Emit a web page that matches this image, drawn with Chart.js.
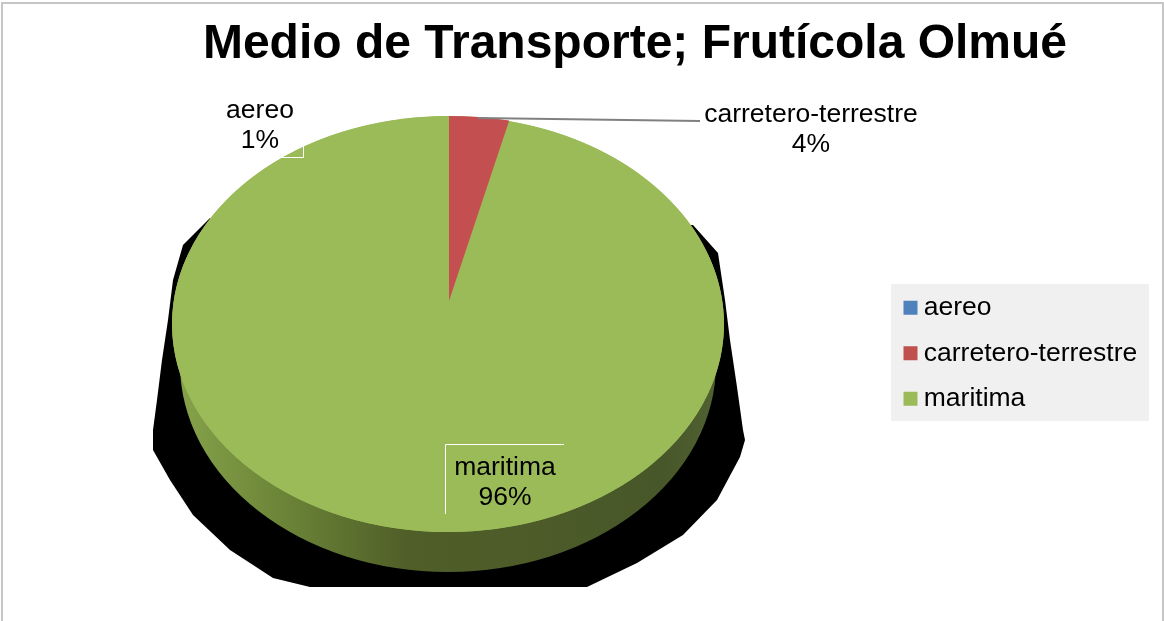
<!DOCTYPE html>
<html>
<head>
<meta charset="utf-8">
<style>html,body{margin:0;padding:0;background:#fff}canvas{display:block}</style>
<script src="https://cdn.jsdelivr.net/npm/chart.js@4"></script>
</head>
<body>
<canvas id="c" width="1164" height="621"></canvas>
<script>
const categories = ['aereo', 'carretero-terrestre', 'maritima'];
const values = [0.6, 3.5, 95.9];
const sliceColors = ['#9bbb59', '#c44f50', '#9bbb59'];
const legendColors = ['#4f81bd', '#c0504d', '#9bbb59'];
const chartTitle = 'Medio de Transporte; Frutícola Olmué';
const labelFont = '26.5px "Liberation Sans", Arial, sans-serif';

const face = { cx: 448, cy: 324, rx: 276, ry: 208 };
const rim = { cy: 364, rx: 268, ry: 208 };
const wedge = { cx: 449, cy: 301, ry: 185 };
const shadowPts = [[210,218],[183,245],[173,280],[168,320],[162,360],[157,400],[153,430],[153,450],[170,480],[193,515],[230,550],[273,578],[310,587],
  [587,587],[637,563],[683,535],[717,500],[740,457],[745,440],[743,430],[737,387],[730,340],[725,300],[718,253],[693,225]];
const labelSpots = [{x:260,y:111},{x:811,y:115},{x:505,y:468}];

const pie3d = {
  id: 'pie3d',
  afterLayout(chart) {
    const t = chart.titleBlock;
    t.left = 135; t.right = 1135; t.top = 3;
    const l = chart.legend;
    l.left = 911 - 19.5; l.top = 275.5;
  },
  beforeDraw(chart) {
    const c = chart.ctx;
    c.save();
    c.strokeStyle = '#c6c6c6'; c.lineWidth = 2;
    c.strokeRect(2, 3, 1161, 700);
    c.fillStyle = '#f0f0f0';
    c.fillRect(891, 284, 258, 137);
    c.restore();
  },
  beforeDatasetDraw(chart, args) {
    const c = chart.ctx, f = face;
    c.save();
    c.fillStyle = '#000';
    c.beginPath();
    shadowPts.forEach((p, i) => i ? c.lineTo(p[0], p[1]) : c.moveTo(p[0], p[1]));
    c.closePath(); c.fill();
    const g = c.createLinearGradient(f.cx - rim.rx, 0, f.cx + rim.rx, 0);
    g.addColorStop(0, '#86a24a');
    g.addColorStop(0.2, '#6a8337');
    g.addColorStop(0.42, '#505f28');
    g.addColorStop(0.9, '#485729');
    g.addColorStop(1, '#506132');
    c.fillStyle = g;
    c.beginPath();
    c.ellipse(f.cx, rim.cy, rim.rx, rim.ry, 0, 0, Math.PI * 2);
    c.fill();
    c.fillStyle = sliceColors[2];
    c.beginPath();
    c.ellipse(f.cx, f.cy, f.rx, f.ry, 0, 0, Math.PI * 2);
    c.fill();
    c.restore();
    const meta = args.meta;
    [2, 0, 1].forEach(i => {
      const el = meta.data[i];
      const isWedge = i === 1;
      const R = el.outerRadius;
      c.save();
      c.translate(isWedge ? wedge.cx : f.cx, isWedge ? wedge.cy : f.cy);
      c.scale(f.rx / R, (isWedge ? wedge.ry : f.ry) / R);
      c.translate(-el.x, -el.y);
      el.draw(c);
      c.restore();
    });
    return false;
  },
  afterDatasetsDraw(chart) {
    const c = chart.ctx;
    c.save();
    c.strokeStyle = '#808080'; c.lineWidth = 2;
    c.beginPath(); c.moveTo(478, 118); c.lineTo(700, 121); c.stroke();
    c.strokeStyle = '#ffffff'; c.lineWidth = 1;
    c.beginPath();
    c.moveTo(280, 157.5); c.lineTo(303.5, 157.5); c.lineTo(303.5, 141);
    c.moveTo(445.5, 514); c.lineTo(445.5, 444.5); c.lineTo(564, 444.5);
    c.stroke();
    c.fillStyle = '#000';
    c.font = labelFont;
    c.textAlign = 'center';
    c.textBaseline = 'middle';
    const total = values.reduce((a, b) => a + b, 0);
    categories.forEach((name, i) => {
      const s = labelSpots[i];
      c.fillText(name, s.x, s.y);
      c.fillText(Math.round(values[i] / total * 100) + '%', s.x, s.y + 30);
    });
    c.restore();
  }
};

new Chart(document.getElementById('c'), {
  type: 'pie',
  data: {
    labels: categories,
    datasets: [{ data: values, backgroundColor: sliceColors, borderWidth: 0 }]
  },
  options: {
    responsive: false,
    animation: false,
    rotation: -values[0] * 3.6,
    plugins: {
      tooltip: { enabled: false },
      title: {
        display: true,
        text: chartTitle,
        color: '#000',
        font: { family: '"Liberation Sans", Arial, sans-serif', size: 48, weight: 'bold' },
        padding: { top: 13, bottom: 0 }
      },
      legend: {
        display: true,
        position: 'right',
        align: 'start',
        labels: {
          color: '#000',
          font: { family: '"Liberation Sans", Arial, sans-serif', size: 26.5 },
          usePointStyle: true,
          pointStyle: 'rect',
          boxWidth: 0.01,
          boxHeight: 14,
          padding: 19,
          generateLabels() {
            return categories.map((name, i) => ({
              text: name, fillStyle: legendColors[i], strokeStyle: legendColors[i],
              lineWidth: 0, pointStyle: 'rect', index: i
            }));
          }
        }
      }
    }
  },
  plugins: [pie3d]
});
</script>
</body>
</html>
